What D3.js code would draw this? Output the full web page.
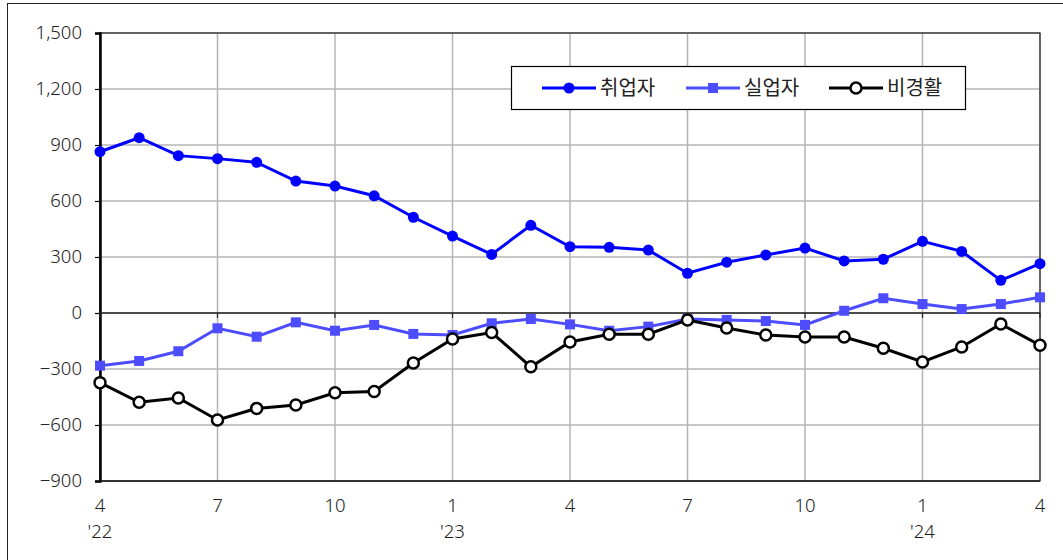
<!DOCTYPE html>
<meta charset="utf-8">
<script src="https://d3js.org/d3.v7.min.js"></script>
<style>
  body { margin: 0; background: #fff; }
  text { font-family: "Noto Sans", "Noto Sans CJK KR", sans-serif; fill: #222; }
  .kr { font-family: "Noto Sans CJK KR", sans-serif; }
</style>
<div id="chart"></div>
<script>
// months Apr '22 .. Apr '24
const months = ["4","5","6","7","8","9","10","11","12","1","2","3","4","5","6","7","8","9","10","11","12","1","2","3","4"];
const yearLabels = [{i: 0, t: "'22"}, {i: 9, t: "'23"}, {i: 21, t: "'24"}];

const employed   = [864, 939, 843, 827, 807, 707, 680, 628, 513, 412, 314, 470, 355, 352, 337, 213, 272, 311, 348, 279, 288, 384, 330, 175, 264];
const unemployed = [-282, -257, -205, -82, -127, -50, -95, -64, -112, -118, -55, -32, -61, -95, -73, -32, -37, -43, -64, 12, 79, 48, 21, 48, 84];
const inactive   = [-373, -478, -455, -573, -511, -493, -427, -420, -268, -139, -105, -288, -155, -114, -114, -37, -80, -118, -129, -129, -189, -262, -182, -59, -173];

const yTicks = [-900, -600, -300, 0, 300, 600, 900, 1200, 1500];

const W = 1063, H = 560;
const margin = {top: 33, right: 23, bottom: 79, left: 100};
const innerW = W - margin.left - margin.right,
      innerH = H - margin.top - margin.bottom;
const fs = "18.5px";

const svg = d3.select("#chart").append("svg")
  .attr("width", W).attr("height", H);

// outer frame
svg.append("rect")
  .attr("x", 7.5).attr("y", 3.5)
  .attr("width", W).attr("height", H)
  .attr("fill", "none").attr("stroke", "#222").attr("stroke-width", 1);

const g = svg.append("g").attr("transform", `translate(${margin.left},${margin.top})`);

const x = d3.scaleLinear().domain([0, months.length - 1]).range([0, innerW]);
const y = d3.scaleLinear().domain([-900, 1500]).range([innerH, 0]);

// grid
g.append("g").selectAll("line").data(yTicks).join("line")
  .attr("x1", 0).attr("x2", innerW)
  .attr("y1", d => y(d)).attr("y2", d => y(d))
  .attr("stroke", "#b4b4b4").attr("stroke-width", 1.5);

const qIdx = d3.range(0, months.length, 3);
g.append("g").selectAll("line").data(qIdx).join("line")
  .attr("x1", d => x(d)).attr("x2", d => x(d))
  .attr("y1", 0).attr("y2", innerH)
  .attr("stroke", "#b4b4b4").attr("stroke-width", 1.5);

// frame of plot
g.append("rect").attr("width", innerW).attr("height", innerH)
  .attr("fill", "none").attr("stroke", "#222").attr("stroke-width", 1.2);

// y axis
const yAxis = g.append("g")
  .call(d3.axisLeft(y).tickValues(yTicks).tickSize(5).tickFormat(d3.format(",")));
yAxis.select(".domain").attr("stroke", "#000").attr("stroke-width", 2.5);
yAxis.selectAll(".tick line").attr("stroke", "#000").attr("stroke-width", 1.2);
yAxis.selectAll(".tick text")
  .attr("x", -18)
  .style("font-family", '"Noto Sans", sans-serif')
  .style("font-size", fs).style("font-weight", 300).attr("fill", "#222")
  .text(d => d < 0 ? "\u2212" + d3.format(",")(-d) : d3.format(",")(d));

// zero line with ticks
g.append("line")
  .attr("x1", 0).attr("x2", innerW)
  .attr("y1", y(0)).attr("y2", y(0))
  .attr("stroke", "#222").attr("stroke-width", 1.5);
g.append("g").selectAll("line").data(qIdx).join("line")
  .attr("x1", d => x(d)).attr("x2", d => x(d))
  .attr("y1", y(0)).attr("y2", y(0) + 5)
  .attr("stroke", "#222").attr("stroke-width", 1.2);

// bottom axis line
g.append("line")
  .attr("x1", 0).attr("x2", innerW)
  .attr("y1", innerH).attr("y2", innerH)
  .attr("stroke", "#222").attr("stroke-width", 1.5);

// x labels
g.append("g").selectAll("text").data(qIdx).join("text")
  .attr("x", d => x(d)).attr("y", innerH + 31)
  .attr("text-anchor", "middle")
  .style("font-size", fs).style("font-weight", 300)
  .text(d => months[d]);
g.append("g").selectAll("text").data(yearLabels).join("text")
  .attr("x", d => x(d.i)).attr("y", innerH + 57)
  .attr("text-anchor", "middle")
  .style("font-size", fs).style("font-weight", 300)
  .text(d => d.t);

// series
const line = d3.line().x((d, i) => x(i)).y(d => y(d));

g.append("path").datum(unemployed).attr("d", line)
  .attr("fill", "none").attr("stroke", "#4d4dff").attr("stroke-width", 3);
g.append("g").selectAll("rect").data(unemployed).join("rect")
  .attr("x", (d, i) => x(i) - 5).attr("y", d => y(d) - 5)
  .attr("width", 10).attr("height", 10).attr("fill", "#4d4dff");

g.append("path").datum(inactive).attr("d", line)
  .attr("fill", "none").attr("stroke", "#000").attr("stroke-width", 3);
g.append("g").selectAll("circle").data(inactive).join("circle")
  .attr("cx", (d, i) => x(i)).attr("cy", d => y(d)).attr("r", 5.5)
  .attr("fill", "#fff").attr("stroke", "#000").attr("stroke-width", 2.5);

g.append("path").datum(employed).attr("d", line)
  .attr("fill", "none").attr("stroke", "#0000ff").attr("stroke-width", 3);
g.append("g").selectAll("circle").data(employed).join("circle")
  .attr("cx", (d, i) => x(i)).attr("cy", d => y(d)).attr("r", 5.5)
  .attr("fill", "#0000ff");

// legend
const legend = svg.append("g");
legend.append("rect")
  .attr("x", 511.5).attr("y", 66.5).attr("width", 454).attr("height", 43)
  .attr("fill", "#fff").attr("stroke", "#000").attr("stroke-width", 1.2);

const items = [
  {name: "취업자", x0: 542, color: "#0000ff", kind: "dot"},
  {name: "실업자", x0: 686, color: "#4d4dff", kind: "square"},
  {name: "비경활", x0: 829, color: "#000", kind: "open"}
];
items.forEach(it => {
  const ly = 88;
  legend.append("line").attr("x1", it.x0).attr("x2", it.x0 + 54)
    .attr("y1", ly).attr("y2", ly).attr("stroke", it.color).attr("stroke-width", 3);
  const mx = it.x0 + 27;
  if (it.kind === "dot") {
    legend.append("circle").attr("cx", mx).attr("cy", ly).attr("r", 5.5).attr("fill", it.color);
  } else if (it.kind === "square") {
    legend.append("rect").attr("x", mx - 5).attr("y", ly - 5).attr("width", 10).attr("height", 10).attr("fill", it.color);
  } else {
    legend.append("circle").attr("cx", mx).attr("cy", ly).attr("r", 5.5)
      .attr("fill", "#fff").attr("stroke", it.color).attr("stroke-width", 2.5);
  }
  legend.append("text").attr("class", "kr").attr("x", it.x0 + 58).attr("y", ly + 7)
    .style("font-size", "20px").text(it.name);
});
</script>
